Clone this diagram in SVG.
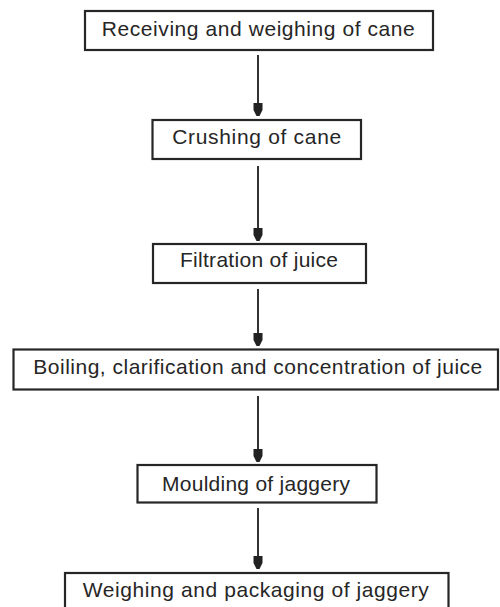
<svg xmlns="http://www.w3.org/2000/svg" width="500" height="607" viewBox="0 0 500 607">
<style>
.box{fill:#fff;stroke:#262626;stroke-width:2.2}
.lbl{font-family:"Liberation Sans",Arial,sans-serif;font-size:21px;fill:#262626;text-anchor:middle}
.con{stroke:#333;stroke-width:2;fill:none;marker-end:url(#ah)}
</style>
<defs>
<marker id="ah" markerUnits="userSpaceOnUse" markerWidth="15" markerHeight="12" viewBox="-14 -6 15 12" refX="0" refY="0" orient="auto">
<path d="M-13,-4.5 H-6 L0,-1.5 V1.5 L-6,4.5 H-13 Z" fill="#222"/>
</marker>
</defs>
<rect width="500" height="607" fill="#fff"/>
<g id="connectors">
<line class="con" x1="258" y1="55" x2="258" y2="116"/>
<line class="con" x1="258" y1="166" x2="258" y2="241"/>
<line class="con" x1="258" y1="289" x2="258" y2="346"/>
<line class="con" x1="258" y1="396" x2="258" y2="462"/>
<line class="con" x1="258" y1="508" x2="258" y2="569"/>
</g>
<g id="n1"><rect class="box" x="85" y="11" width="348" height="39"/><text class="lbl" x="258.3" y="35.5" textLength="313" lengthAdjust="spacing">Receiving and weighing of cane</text></g>
<g id="n2"><rect class="box" x="152.5" y="120" width="208.5" height="39"/><text class="lbl" x="256.7" y="144" textLength="169" lengthAdjust="spacing">Crushing of cane</text></g>
<g id="n3"><rect class="box" x="153" y="244" width="213" height="39"/><text class="lbl" x="259" y="267" textLength="158" lengthAdjust="spacing">Filtration of juice</text></g>
<g id="n4"><rect class="box" x="13.5" y="349.5" width="484.5" height="40"/><text class="lbl" x="257.8" y="373.5" textLength="449" lengthAdjust="spacing">Boiling, clarification and concentration of juice</text></g>
<g id="n5"><rect class="box" x="137.5" y="465" width="239" height="37.5"/><text class="lbl" x="256" y="491" textLength="188" lengthAdjust="spacing">Moulding of jaggery</text></g>
<g id="n6"><rect class="box" x="65" y="573" width="383.5" height="45"/><text class="lbl" x="255.8" y="596.5" textLength="346" lengthAdjust="spacing">Weighing and packaging of jaggery</text></g>
</svg>
